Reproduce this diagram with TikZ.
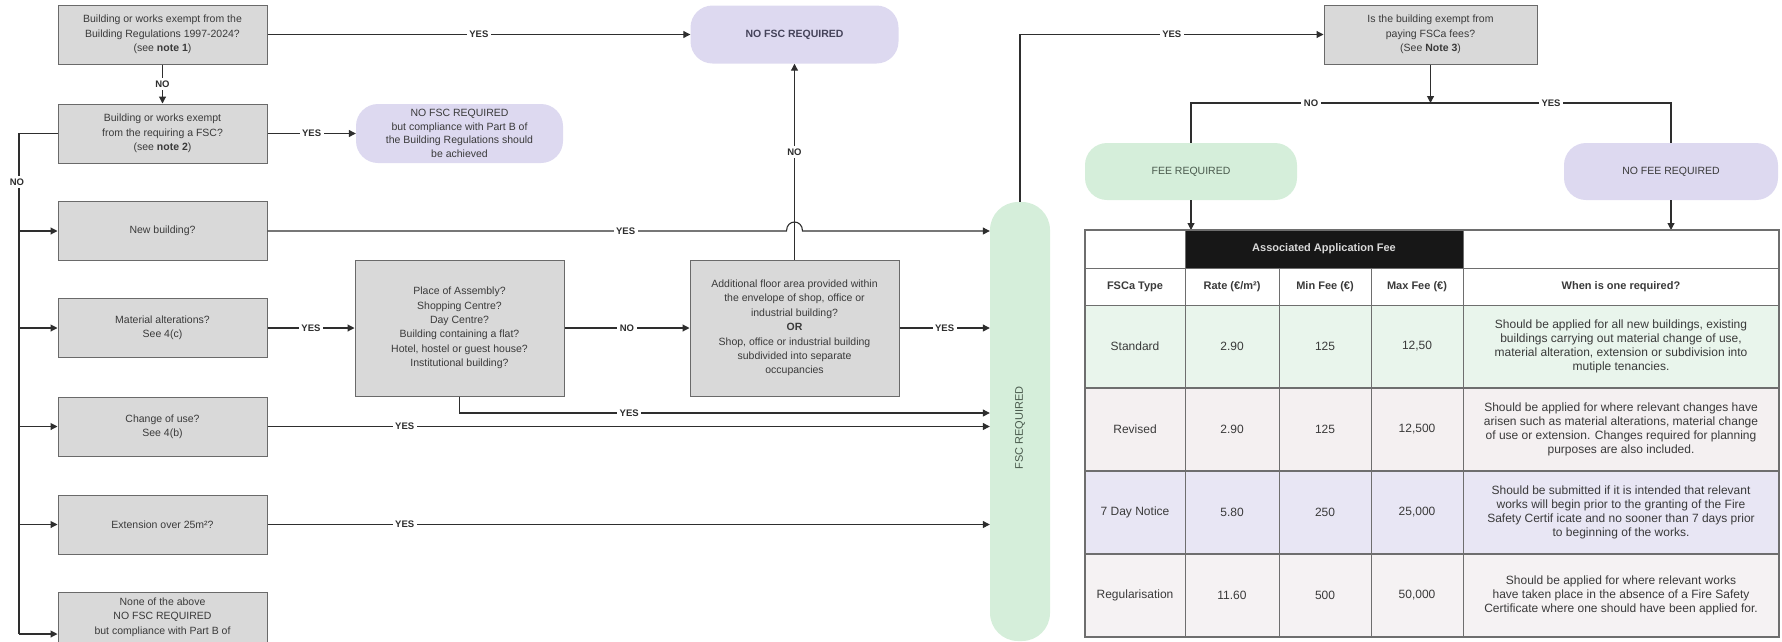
\documentclass[tikz,border=0pt]{standalone}
\usepackage{fontspec}
\setmainfont{Liberation Sans}
\usetikzlibrary{arrows.meta,calc}
\definecolor{boxfill}{HTML}{D9D9D9}
\definecolor{boxline}{HTML}{6A6A6A}
\definecolor{lav}{HTML}{DDD9F0}
\definecolor{grn}{HTML}{D5EEDA}
\definecolor{txt}{HTML}{3A3A3A}
\definecolor{ln}{HTML}{2E2E2E}
\definecolor{rowA}{HTML}{E9F5EC}
\definecolor{rowB}{HTML}{F4F0F1}
\definecolor{rowC}{HTML}{E8E6F4}
\definecolor{rowD}{HTML}{F5F2F3}
\definecolor{tline}{HTML}{6E6E6E}
\definecolor{hdr}{HTML}{171717}
\definecolor{grntxt}{HTML}{4A5A4D}
\definecolor{lavtxt}{HTML}{45435A}
\begin{document}
\begin{tikzpicture}[x=1pt,y=-1pt,
  qbox/.style={draw=boxline, line width=1pt, fill=boxfill, minimum width=209pt, minimum height=59pt, align=center, text=txt, font=\fontsize{10.5}{14.4}\selectfont, inner sep=2pt},
  pill/.style={fill=lav, rounded corners=22pt, minimum width=208pt, minimum height=58pt, align=center, text=txt, font=\fontsize{10.5}{13.6}\selectfont},
  conn/.style={draw=ln, line width=1.1pt},
  arr/.style={conn, -{Triangle[length=7pt,width=7pt]}},
  lab/.style={fill=white, inner sep=2.5pt, font=\bfseries\fontsize{9.5}{10}\selectfont, text=ln},
  cell/.style={align=center, text=txt, font=\fontsize{12}{14}\selectfont},
  hcell/.style={align=center, text=txt, font=\bfseries\fontsize{11}{13}\selectfont},
]
\useasboundingbox (0,0) rectangle (1782,641);
\clip (0,0) rectangle (1782,641);

% left column
\node[qbox] (b1) at (162.5,34.5) {Building or works exempt from the\\Building Regulations 1997-2024?\\(see \textbf{note 1})};
\node[qbox] (b2) at (162.5,133.5) {Building or works exempt\\from the requiring a FSC?\\(see \textbf{note 2})};
\node[qbox] (nb) at (162.5,231) {New building?};
\node[qbox] (ma) at (162.5,328) {Material alterations?\\See 4(c)};
\node[qbox] (cu) at (162.5,426.5) {Change of use?\\See 4(b)};
\node[qbox] (ex) at (162.5,524.5) {Extension over 25m²?};
\node[qbox, minimum height=84pt] (na) at (162.5,634) {};
\node[anchor=north, align=center, text=txt, font=\fontsize{10.5}{14.4}\selectfont, inner sep=2pt] (natext) at ($(na.north)+(0,4)$) {None of the above\\NO FSC REQUIRED\\but compliance with Part B of};

% pills
\node[pill, text=lavtxt, font=\bfseries\fontsize{10.5}{13}\selectfont] (p1) at (794.5,34.5) {NO FSC REQUIRED};
\node[pill, minimum width=207pt, minimum height=59pt] (p2) at (459.5,133.5) {NO FSC REQUIRED\\but compliance with Part B of\\the Building Regulations should\\be achieved};

% middle boxes
\node[qbox, minimum height=136pt] (pa) at (459.5,328) {Place of Assembly?\\Shopping Centre?\\Day Centre?\\Building containing a flat?\\Hotel, hostel or guest house?\\Institutional building?};
\node[qbox, minimum height=136pt] (ad) at (794.5,328) {Additional floor area provided within\\the envelope of shop, office or\\industrial building?\\\textbf{OR}\\Shop, office or industrial building\\subdivided into separate\\occupancies};

% FSC required column
\node[fill=grn, rounded corners=28pt, minimum width=60pt, minimum height=439pt] (fsc) at (1020,421.5) {};
\node[rotate=90, text=grntxt, font=\fontsize{11}{12}\selectfont] (fsctext) at (1020,428) {FSC REQUIRED};

% fee part
\node[qbox, minimum width=213pt] (fq) at (1430.5,34.5) {Is the building exempt from\\paying FSCa fees?\\(See \textbf{Note 3})};
\node[pill, fill=grn, text=grntxt, minimum width=212pt, minimum height=57pt] (fr) at (1191,171.5) {FEE REQUIRED};
\node[pill, minimum width=214pt, minimum height=57pt] (nf) at (1671,171.5) {NO FEE REQUIRED};

% coordinates
\coordinate (tr) at (19,0);
\coordinate (py) at (0,413);
\coordinate (hy) at (0,103);
\coordinate (ttop) at (1300,230);

% connectors
\draw[arr] (b1) -- (p1) node[lab,midway]{YES};
\draw[arr] (b1) -- (b2) node[lab,midway]{NO};
\draw[arr] (b2) -- (p2) node[lab,midway]{YES};
\draw[conn] (b2.west) -- (tr |- b2.west) -- (tr |- na.west);
\node[lab] (nolab) at (17,182) {NO};
\foreach \n in {nb,ma,cu,ex,na} \draw[arr] (tr |- \n.west) -- (\n.west);

\draw[arr] (nb.east) -- node[lab,pos=0.69]{YES} (786.5,231) .. controls (786.5,219) and (802.5,219) .. (802.5,231) -- (fsc.west |- nb.east);
\draw[arr] (ma) -- (pa) node[lab,midway]{YES};
\draw[arr] (pa) -- (ad) node[lab,midway]{NO};
\draw[arr] (ad.east) -- (fsc.west |- ad.east) node[lab,midway]{YES};
\draw[arr] (ad) -- (p1) node[lab,pos=0.55]{NO};
\draw[arr] (pa.south) |- (fsc.west |- py) node[lab,pos=0.66]{YES};
\draw[arr] (cu.east) -- (fsc.west |- cu.east) node[lab,pos=0.19]{YES};
\draw[arr] (ex.east) -- (fsc.west |- ex.east) node[lab,pos=0.19]{YES};
\draw[arr] (fsc.north) |- (fq.west) node[lab,pos=0.75]{YES};

\draw[arr] (fq.south) -- (fq.south |- hy);
\draw[conn] (fr.north) |- (nf.north |- hy) -- (nf.north);
\node[lab] (nolab2) at (1311,103) {NO};
\node[lab] (yeslab2) at (1551,103) {YES};
\draw[arr] (fr.south) -- (fr.south |- ttop);
\draw[arr] (nf.south) -- (nf.south |- ttop);

% table
\fill[rowA] (1085,305) rectangle (1779,388);
\fill[rowB] (1085,388) rectangle (1779,471);
\fill[rowC] (1085,471) rectangle (1779,554);
\fill[rowD] (1085,554) rectangle (1779,637);
\fill[hdr] (1185,230) rectangle (1463,268);
\draw[tline, line width=1pt] (1085,268) -- (1779,268);
\draw[tline, line width=1pt] (1085,305) -- (1779,305);
\foreach \yy in {388,471,554} \draw[tline, line width=1.6pt] (1085,\yy) -- (1779,\yy);
\draw[tline, line width=1pt] (1185,230) -- (1185,637);
\draw[tline, line width=1pt] (1463,230) -- (1463,637);
\draw[tline, line width=1pt] (1279,268) -- (1279,637);
\draw[tline, line width=1pt] (1371,268) -- (1371,637);
\draw[tline, line width=1.2pt] (1085,230) rectangle (1779,637);

\node[font=\bfseries\fontsize{11}{13}\selectfont, text=white!85!black] (th) at (1324,249) {Associated Application Fee};
\node[hcell] (h1) at (1135,286.5) {FSCa Type};
\node[hcell] (h2) at (1232,286.5) {Rate (€/m²)};
\node[hcell] (h3) at (1325,286.5) {Min Fee (€)};
\node[hcell] (h4) at (1417,286.5) {Max Fee (€)};
\node[hcell] (h5) at (1621,286.5) {When is one required?};

\node[cell] (r1a) at (1135,346.5) {Standard};
\node[cell] (r1b) at (1232,346.5) {2.90};
\node[cell] (r1c) at (1325,346.5) {125};
\node[cell] (r1d) at (1417,346.5) {12,50};
\node[cell] (r1e) at (1621,346.5) {Should be applied for all new buildings, existing\\buildings carrying out material change of use,\\material alteration, extension or subdivision into\\mutiple tenancies.};

\node[cell] (r2a) at (1135,429.5) {Revised};
\node[cell] (r2b) at (1232,429.5) {2.90};
\node[cell] (r2c) at (1325,429.5) {125};
\node[cell] (r2d) at (1417,429.5) {12,500};
\node[cell] (r2e) at (1621,429.5) {Should be applied for where relevant changes have\\arisen such as material alterations, material change\\of use or extension. Changes required for planning\\purposes are also included.};

\node[cell] (r3a) at (1135,512.5) {7 Day Notice};
\node[cell] (r3b) at (1232,512.5) {5.80};
\node[cell] (r3c) at (1325,512.5) {250};
\node[cell] (r3d) at (1417,512.5) {25,000};
\node[cell] (r3e) at (1621,512.5) {Should be submitted if it is intended that relevant\\works will begin prior to the granting of the Fire\\Safety Certif icate and no sooner than 7 days prior\\to beginning of the works.};

\node[cell] (r4a) at (1135,595.5) {Regularisation};
\node[cell] (r4b) at (1232,595.5) {11.60};
\node[cell] (r4c) at (1325,595.5) {500};
\node[cell] (r4d) at (1417,595.5) {50,000};
\node[cell] (r4e) at (1621,595.5) {Should be applied for where relevant works\\have taken place in the absence of a Fire Safety\\Certificate where one should have been applied for.};
\end{tikzpicture}
\end{document}
